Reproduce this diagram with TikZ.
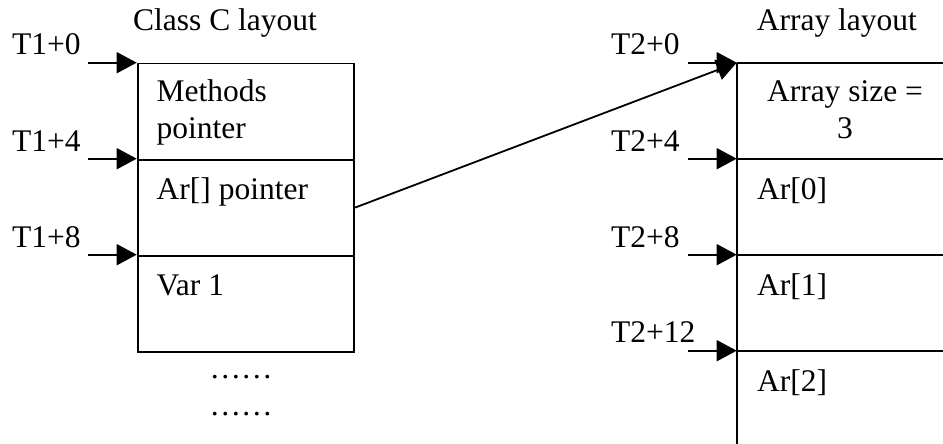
\documentclass[tikz,border=0pt]{standalone}
\usepackage{fontspec}
\setmainfont{Liberation Serif}
\usetikzlibrary{arrows.meta}
\begin{document}
\begin{tikzpicture}[x=1pt,y=-1pt,
  txt/.style={inner sep=0pt,anchor=base west,font=\fontsize{31.5}{36}\selectfont},
  cell/.style={draw,line width=1.8pt,minimum width=216.6pt,minimum height=96pt,anchor=north west,inner sep=0pt},
  ln/.style={line width=1.8pt},
  ptr/.style={line width=1.8pt,-{Triangle[length=20pt,width=21pt]}}]
\useasboundingbox (0,0) rectangle (943,444);
% left layout
\node[txt] (t1) at (133,31) {Class C layout};
\node[cell] (c1) at (136.7,62.7) {};
\node[cell] (c2) at (136.7,158.7) {};
\node[cell] (c3) at (136.7,254.7) {};
\node[txt] (m1) at (156.5,102) {Methods};
\node[txt] (m2) at (156.5,138) {pointer};
\node[txt] (arp) at (156.5,199) {Ar[] pointer};
\node[txt] (v1) at (156.5,295) {Var 1};
\node[txt] (d1) at (209.5,378) {……};
\node[txt] (d2) at (209.5,415) {……};
\node[txt] (l0) at (12,55) {T1+0};
\node[txt] (l4) at (12,151) {T1+4};
\node[txt] (l8) at (12,247) {T1+8};
\coordinate (s0) at (88,62.7);
\coordinate (s4) at (88,158.7);
\coordinate (s8) at (88,254.7);
\draw[ptr] (s0) -- (c1.north west);
\draw[ptr] (s4) -- (c2.north west);
\draw[ptr] (s8) -- (c3.north west);
% right layout
\node[txt] (t2) at (756.7,31) {Array layout};
\coordinate (r0) at (736.7,62.7);
\coordinate (r1) at (736.7,158.7);
\coordinate (r2) at (736.7,254.7);
\coordinate (r3) at (736.7,350.7);
\coordinate (rb) at (736.7,444);
\coordinate (e0) at (943,62.7);
\coordinate (e1) at (943,158.7);
\coordinate (e2) at (943,254.7);
\coordinate (e3) at (943,350.7);
\draw[ln] (r0) -- (rb);
\draw[ln] (r0) -- (e0);
\draw[ln] (r1) -- (e1);
\draw[ln] (r2) -- (e2);
\draw[ln] (r3) -- (e3);
\node[txt,anchor=base] (as1) at (845,101.7) {Array size =};
\node[txt,anchor=base] (as2) at (845,138) {3};
\node[txt] (a0) at (757,199) {Ar[0]};
\node[txt] (a1) at (757,295) {Ar[1]};
\node[txt] (a2) at (757,391.7) {Ar[2]};
\node[txt] (k0) at (611,55) {T2+0};
\node[txt] (k4) at (611,151) {T2+4};
\node[txt] (k8) at (611,247) {T2+8};
\node[txt] (k12) at (611,342) {T2+12};
\coordinate (q0) at (688.3,62.7);
\coordinate (q4) at (688.3,158.7);
\coordinate (q8) at (688.3,254.7);
\coordinate (q12) at (688.3,350.7);
\draw[ptr] (q0) -- (r0);
\draw[ptr] (q4) -- (r1);
\draw[ptr] (q8) -- (r2);
\draw[ptr] (q12) -- (r3);
% pointer
\draw[ptr] (c2.east) -- (r0);
\end{tikzpicture}
\end{document}
